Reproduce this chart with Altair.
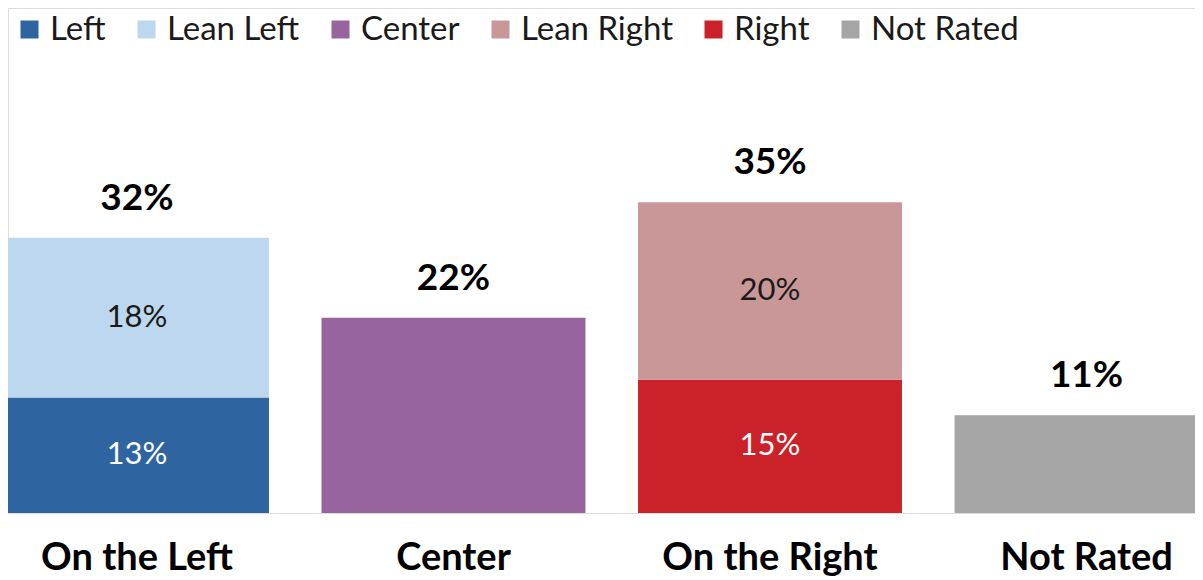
import altair as alt
import pandas as pd

# ---- data ----
groups = ["On the Left", "Center", "On the Right", "Not Rated"]
totals = [32, 22, 35, 11]

seg_group = ["On the Left", "On the Left", "Center", "On the Right", "On the Right", "Not Rated"]
seg_name = ["Left", "Lean Left", "Center", "Right", "Lean Right", "Not Rated"]
seg_value = [13, 18, 22, 15, 20, 11]
seg_show_label = [True, True, False, True, True, False]

legend_order = ["Left", "Lean Left", "Center", "Lean Right", "Right", "Not Rated"]
legend_colors = ["#2E64A0", "#BDD7EE", "#98649E", "#C99797", "#CB2229", "#A5A5A5"]
label_text_color = {"Left": "#FFFFFF", "Right": "#FFFFFF", "Lean Left": "#1A1A1A", "Lean Right": "#1A1A1A"}

# ---- build tables ----
seg = pd.DataFrame({"group": seg_group, "name": seg_name, "value": seg_value, "show": seg_show_label})
seg["end"] = seg.groupby("group")["value"].cumsum()
seg["start"] = seg["end"] - seg["value"]
seg["mid"] = (seg["start"] + seg["end"]) / 2
seg["label"] = seg["value"].astype(str) + "%"
seg["tcolor"] = seg["name"].map(label_text_color).fillna("#000000")

tot = pd.DataFrame({"group": groups, "total": totals})
tops = seg.groupby("group")["end"].max()
tot["top"] = tot["group"].map(tops)
tot["label"] = tot["total"].astype(str) + "%"

FONT = "Lato"

x = alt.X(
    "group:N",
    sort=groups,
    scale=alt.Scale(range=[-3, 1210.5], paddingInner=0.166, paddingOuter=0),
    axis=alt.Axis(
        title=None,
        ticks=False,
        domain=False,
        labelAngle=0,
        labelFont=FONT,
        labelFontSize=38,
        labelFontWeight="bold",
        labelColor="#000000",
        labelPadding=26,
        labelLimit=600,
    ),
)
yscale = alt.Scale(domain=[0, 56.9], nice=False, zero=True)

bars = alt.Chart(seg).mark_bar(strokeWidth=0).encode(
    x=x,
    y=alt.Y("start:Q", scale=yscale, axis=None),
    y2="end:Q",
    color=alt.Color(
        "name:N",
        scale=alt.Scale(domain=legend_order, range=legend_colors),
        legend=alt.Legend(
            title=None,
            orient="none",
            legendX=5,
            legendY=5,
            direction="horizontal",
            symbolType="square",
            symbolSize=324,
            symbolStrokeWidth=0,
            labelFont=FONT,
            labelFontSize=33,
            labelColor="#1A1A1A",
            labelOffset=4,
            columnPadding=24,
            gridAlign="none",
            padding=0,
        ),
    ),
)

inner = alt.Chart(seg).transform_filter("datum.show").mark_text(
    font=FONT, fontSize=31, baseline="middle", align="center"
).encode(
    x=alt.X("group:N", sort=groups),
    y=alt.Y("mid:Q", scale=yscale),
    text="label:N",
    color=alt.Color("tcolor:N", scale=None),
)

top_labels = alt.Chart(tot).mark_text(
    font=FONT, fontSize=37, fontWeight="bold", baseline="bottom", align="center", dy=-20, color="#000000"
).encode(
    x=alt.X("group:N", sort=groups),
    y=alt.Y("top:Q", scale=yscale),
    text="label:N",
)

chart = (
    alt.layer(bars, inner, top_labels)
    .properties(
        width=1187,
        height=505,
        autosize=alt.AutoSizeParams(type="none"),
        padding={"left": 0, "top": 0, "right": 0, "bottom": 67},
    )
    .configure_view(strokeWidth=0, stroke="transparent")
    .configure(background="#FFFFFF")
)

chart.save("out.html", embed_options={"renderer": "svg", "actions": False})
